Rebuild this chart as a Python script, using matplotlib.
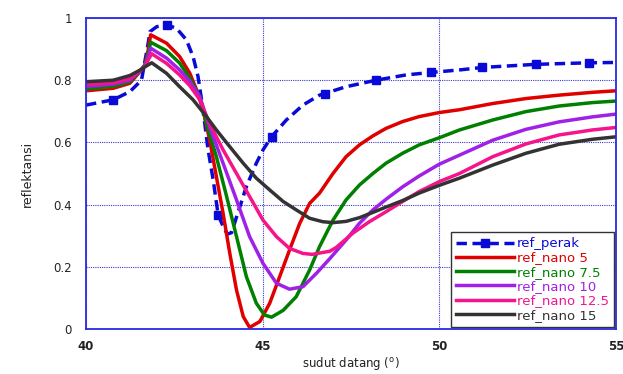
import numpy as np
import matplotlib
matplotlib.use("Agg")
import matplotlib.pyplot as plt

# ---------------- data ----------------
perak_x = [40.0, 40.77, 41.24, 41.57, 41.76, 41.81, 42.0, 42.28, 42.56, 42.84, 43.03, 43.17,
           43.27, 43.36, 43.45, 43.6, 43.74, 43.88, 44.0, 44.12, 44.26, 44.54, 44.82, 45.01,
           45.25, 45.67, 46.14, 46.61, 46.75, 47.36, 48.21, 49.06, 49.77, 50.57, 51.22,
           52.73, 54.24, 55.0]
perak_y = [0.72, 0.737, 0.763, 0.80, 0.919, 0.956, 0.972, 0.978, 0.967, 0.93, 0.876, 0.812,
           0.737, 0.662, 0.58, 0.479, 0.367, 0.33, 0.305, 0.31, 0.36, 0.458, 0.533, 0.576,
           0.618, 0.672, 0.72, 0.752, 0.757, 0.779, 0.80, 0.817, 0.825, 0.833, 0.841,
           0.851, 0.856, 0.857]
perak_marker_angles = [40.77, 42.28, 43.74, 45.25, 46.75, 48.21, 49.77, 51.22, 52.73, 54.24]

n5_x = [40.0, 40.77, 41.24, 41.57, 41.67, 41.76, 41.83, 42.28, 42.65, 42.94, 43.13, 43.31,
        43.5, 43.69, 43.88, 44.07, 44.26, 44.45, 44.63, 44.92, 45.2, 45.48, 45.76, 46.05,
        46.33, 46.61, 46.99, 47.36, 47.74, 48.12, 48.49, 48.96, 49.43, 50.0, 50.57, 51.51,
        52.45, 53.39, 54.33, 55.0]
n5_y = [0.766, 0.774, 0.79, 0.833, 0.849, 0.897, 0.946, 0.919, 0.876, 0.822, 0.769, 0.705,
        0.608, 0.49, 0.372, 0.243, 0.125, 0.04, 0.005, 0.024, 0.083, 0.168, 0.254, 0.34,
        0.404, 0.437, 0.50, 0.554, 0.592, 0.621, 0.645, 0.667, 0.683, 0.696, 0.705, 0.725,
        0.741, 0.752, 0.761, 0.766]

n75_x = [40.0, 40.77, 41.24, 41.57, 41.67, 41.76, 41.83, 42.28, 42.65, 42.94, 43.22, 43.41,
         43.69, 43.98, 44.26, 44.54, 44.82, 45.05, 45.25, 45.58, 45.95, 46.33, 46.61, 46.99,
         47.36, 47.74, 48.12, 48.49, 48.96, 49.43, 50.0, 50.57, 51.51, 52.45, 53.39, 54.33,
         55.0]
n75_y = [0.772, 0.78, 0.795, 0.835, 0.85, 0.885, 0.922, 0.895, 0.855, 0.806, 0.747, 0.66,
         0.554, 0.426, 0.297, 0.168, 0.083, 0.045, 0.038, 0.06, 0.104, 0.19, 0.265, 0.35,
         0.415, 0.463, 0.50, 0.533, 0.565, 0.592, 0.615, 0.64, 0.672, 0.699, 0.717, 0.728,
         0.733]

n10_x = [40.0, 40.77, 41.24, 41.57, 41.67, 41.76, 41.83, 42.28, 42.65, 42.94, 43.22, 43.5,
         43.88, 44.26, 44.63, 45.01, 45.39, 45.76, 46.14, 46.52, 46.89, 47.36, 47.74, 48.12,
         48.49, 48.96, 49.43, 50.0, 50.57, 51.51, 52.45, 53.39, 54.33, 55.0]
n10_y = [0.78, 0.787, 0.80, 0.835, 0.848, 0.875, 0.903, 0.871, 0.833, 0.796, 0.747, 0.65,
         0.533, 0.415, 0.297, 0.211, 0.147, 0.128, 0.136, 0.179, 0.225, 0.286, 0.34, 0.383,
         0.417, 0.457, 0.492, 0.53, 0.559, 0.607, 0.642, 0.666, 0.682, 0.691]

n125_x = [40.0, 40.77, 41.24, 41.57, 41.67, 41.76, 41.86, 42.28, 42.65, 42.94, 43.22, 43.5,
          43.88, 44.26, 44.63, 45.01, 45.39, 45.76, 46.14, 46.4, 46.9, 47.08, 47.55, 48.02,
          48.49, 48.96, 49.43, 50.0, 50.57, 51.51, 52.45, 53.39, 54.33, 55.0]
n125_y = [0.786, 0.792, 0.805, 0.835, 0.845, 0.865, 0.885, 0.854, 0.817, 0.782, 0.737, 0.66,
          0.576, 0.50, 0.426, 0.35, 0.297, 0.259, 0.243, 0.240, 0.25, 0.262, 0.308, 0.345,
          0.377, 0.41, 0.442, 0.474, 0.50, 0.554, 0.595, 0.624, 0.64, 0.648]

n15_x = [40.0, 40.77, 41.24, 41.57, 41.7, 41.86, 42.28, 42.65, 43.03, 43.41, 43.69, 44.07,
         44.45, 44.82, 45.2, 45.58, 45.95, 46.33, 46.7, 46.99, 47.36, 47.74, 48.12, 48.49,
         48.96, 49.43, 50.0, 50.57, 51.51, 52.45, 53.39, 54.33, 55.0]
n15_y = [0.795, 0.80, 0.815, 0.835, 0.845, 0.856, 0.822, 0.779, 0.737, 0.683, 0.64, 0.586,
         0.533, 0.485, 0.447, 0.41, 0.383, 0.356, 0.345, 0.342, 0.346, 0.358, 0.375, 0.392,
         0.413, 0.437, 0.462, 0.485, 0.527, 0.565, 0.594, 0.61, 0.618]

labels = ["ref_perak", "ref_nano 5", "ref_nano 7.5", "ref_nano 10", "ref_nano 12.5", "ref_nano 15"]
x_ticks = [40, 45, 50, 55]
y_ticks = [0, 0.2, 0.4, 0.6, 0.8, 1]
y_ticklabels = ["0", "0.2", "0.4", "0.6", "0.8", "1"]

# ---------------- plot ----------------
plt.rcParams['font.family'] = ['DejaVu Sans']
fig = plt.figure(figsize=(6.23, 3.74), dpi=100)
ax = fig.add_axes([86/623, 1-329/374, 530/623, 311/374])

blue = '#0a0ad8'
colors = ['#e00000', '#008000', '#a020e8', '#f5148c', '#333333']

mk_idx = [int(np.argmin(np.abs(np.array(perak_x) - a))) for a in perak_marker_angles]
ax.plot(perak_x, perak_y, color=blue, lw=2.5, linestyle=(0, (3.0, 1.6)),
        marker='s', markersize=5.5, markevery=mk_idx, label=labels[0])

series = [(n5_x, n5_y), (n75_x, n75_y), (n10_x, n10_y), (n125_x, n125_y), (n15_x, n15_y)]
for (xs, ys), c, lab in zip(series, colors, labels[1:]):
    ax.plot(xs, ys, color=c, lw=2.5, label=lab, solid_joinstyle='round')

ax.set_xlim(40, 55)
ax.set_ylim(0, 1)
ax.set_xticks(x_ticks)
ax.set_yticks(y_ticks)
ax.set_yticklabels(y_ticklabels)
ax.tick_params(length=0, labelsize=8.5, labelcolor='#222222')
ax.tick_params(axis='y', pad=10)
ax.tick_params(axis='x', pad=8)
for lab in ax.get_xticklabels():
    lab.set_fontweight('bold')

ax.grid(True, color='#3a3ad0', linestyle=(0, (1, 1)), linewidth=0.8)
for s in ax.spines.values():
    s.set_color('#2a2ae6')
    s.set_linewidth(1.3)

ax.set_xlabel(r'sudut datang ($^{\rm o}$)', fontsize=8.5, color='#222222', labelpad=1)
ax.set_ylabel('reflektansi', fontsize=9, color='#222222', labelpad=14)

leg = ax.legend(loc='lower right', fontsize=9.5, frameon=True, fancybox=False,
                edgecolor='#333333', framealpha=1, handlelength=4.4, handletextpad=0.2,
                labelspacing=0.1, borderpad=0.4, borderaxespad=0.15, numpoints=1)
leg.get_frame().set_linewidth(1.0)
for txt, c in zip(leg.get_texts(), [blue] + colors):
    txt.set_color(c)

fig.savefig('out.png', dpi=100)
